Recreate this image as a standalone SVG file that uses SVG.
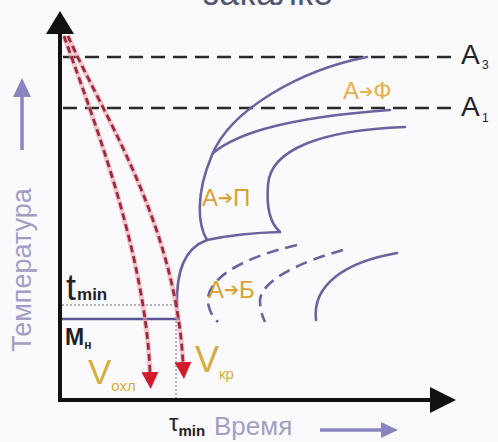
<svg xmlns="http://www.w3.org/2000/svg" width="498" height="442" viewBox="0 0 498 442">
<defs>
<style>
.ax{stroke:#111;stroke-width:4;fill:none}
.lev{stroke:#2a2a2a;stroke-width:2.5;stroke-dasharray:14 8;fill:none}
.cc{stroke:#6a639e;stroke-width:2.6;fill:none;stroke-linecap:round}
.ccd{stroke:#6a639e;stroke-width:2.6;fill:none;stroke-dasharray:12 7}
.halo{stroke:#ec9aa4;stroke-width:5;fill:none;opacity:.55}
.cool{stroke:#9e2a3e;stroke-width:2.8;fill:none;stroke-dasharray:7 4}
.dot{stroke:#9a98b8;stroke-width:1.5;stroke-dasharray:2 2;fill:none}
.lbl{font-family:"Liberation Sans",Arial,sans-serif;fill:#d9a232;font-size:24px}
.arr{font-family:"DejaVu Sans",sans-serif}
.dk{font-family:"Liberation Sans",Arial,sans-serif;fill:#222}
.vv{font-family:"Liberation Sans",Arial,sans-serif;fill:#d4ae3c}
.pu{font-family:"Liberation Sans",Arial,sans-serif;fill:#a29ec4}
</style>
<marker id="rh" viewBox="0 0 10 10" refX="0" refY="5" markerUnits="userSpaceOnUse" markerWidth="17" markerHeight="17" orient="auto">
<path d="M0,0 L10,5 L0,10 z" fill="#d21c2c"/>
</marker>
</defs>
<rect width="498" height="442" fill="#fafafc"/>
<text x="268" y="5" font-size="36" text-anchor="middle" font-family="Liberation Sans, Arial, sans-serif" fill="#55556f">закалке</text>

<g id="axes">
<line class="ax" x1="60" y1="30" x2="60" y2="402"/>
<polygon points="60,11 46,34 74,34" fill="#111"/>
<line class="ax" x1="58" y1="400" x2="432" y2="400"/>
<polygon points="456,400 430,387 430,413" fill="#111"/>
</g>

<g id="levels">
<line class="lev" x1="63" y1="57" x2="452" y2="57"/>
<line class="lev" x1="63" y1="108" x2="452" y2="108"/>
<text class="dk" x="461" y="64" font-size="28">A</text>
<text class="dk" x="482" y="69" font-size="12">3</text>
<text class="dk" x="461" y="116" font-size="28">A</text>
<text class="dk" x="482" y="122" font-size="12">1</text>
</g>

<g id="tmin-mh">
<line class="dot" x1="62" y1="305" x2="178" y2="305"/>
<line x1="62" y1="319" x2="180" y2="319" stroke="#5a5494" stroke-width="2.5"/>
<line class="dot" x1="176" y1="305" x2="176" y2="398"/>
<text class="dk" x="66" y="300" font-size="36">t<tspan font-size="17" font-weight="bold" dx="1">min</tspan></text>
<text class="dk" x="65" y="345" font-size="23" font-weight="bold">M<tspan font-size="12" dy="4">н</tspan></text>
<text class="dk" x="169" y="431" font-size="24">τ<tspan font-size="15" font-weight="bold" dy="5">min</tspan></text>
</g>

<g id="c-curves">
<path class="cc" d="M367,57 C300,70 230,110 212,155 C195,195 198,225 207,240"/>
<path class="cc" d="M213,153 C235,135 280,118 390,110"/>
<path class="cc" d="M405,127 C320,130 270,150 268,185 C266,210 272,225 280,232"/>
<path class="cc" d="M207,240 Q240,233 280,232"/>
<path class="cc" d="M177,307 C176,270 185,248 207,240"/>
<path class="ccd" d="M297,245 C240,258 205,280 208,303 Q210,315 218,322"/>
<path class="ccd" d="M343,250 C300,262 262,280 260,300 Q260,312 265,322"/>
<path class="cc" d="M397,253 C345,262 312,285 316,320"/>
</g>

<g id="connectors">
<path class="halo" d="M64,36 C90,110 145,250 150,372"/>
<path class="cool" d="M64,36 C90,110 145,250 150,372" marker-end="url(#rh)"/>
<path class="halo" d="M68,36 C100,110 175,220 183,362"/>
<path class="cool" d="M68,36 C100,110 175,220 183,362" marker-end="url(#rh)"/>
</g>

<g id="labels">
<text class="lbl" x="343" y="99" font-size="23" fill="#e2b24c" style="fill:#e2b24c">А<tspan class="arr" font-size="17" dy="-2">➔</tspan><tspan dy="2">Ф</tspan></text>
<text class="lbl" x="202" y="206">А<tspan class="arr" font-size="18" dy="-2">➔</tspan><tspan dy="2">П</tspan></text>
<text class="lbl" x="208" y="298">А<tspan class="arr" font-size="18" dy="-2">➔</tspan><tspan dy="2">Б</tspan></text>
<text class="vv" x="88" y="384" font-size="35">V<tspan font-size="15" dy="7">охл</tspan></text>
<text class="vv" x="195" y="372" font-size="36">V<tspan font-size="15" dy="7">кр</tspan></text>
</g>

<g id="axis-titles">
<text class="pu" transform="translate(31,270) rotate(-90)" font-size="27" text-anchor="middle">Температура</text>
<line x1="22" y1="150" x2="22" y2="92" stroke="#8a84c0" stroke-width="3.5"/>
<polygon points="22,78 13,97 31,97" fill="#8a84c0"/>
<text class="pu" x="214" y="435" font-size="26">Время</text>
<line x1="320" y1="430" x2="384" y2="430" stroke="#8a84c0" stroke-width="3.5"/>
<polygon points="398,430 381,422 381,438" fill="#8a84c0"/>
</g>
</svg>
